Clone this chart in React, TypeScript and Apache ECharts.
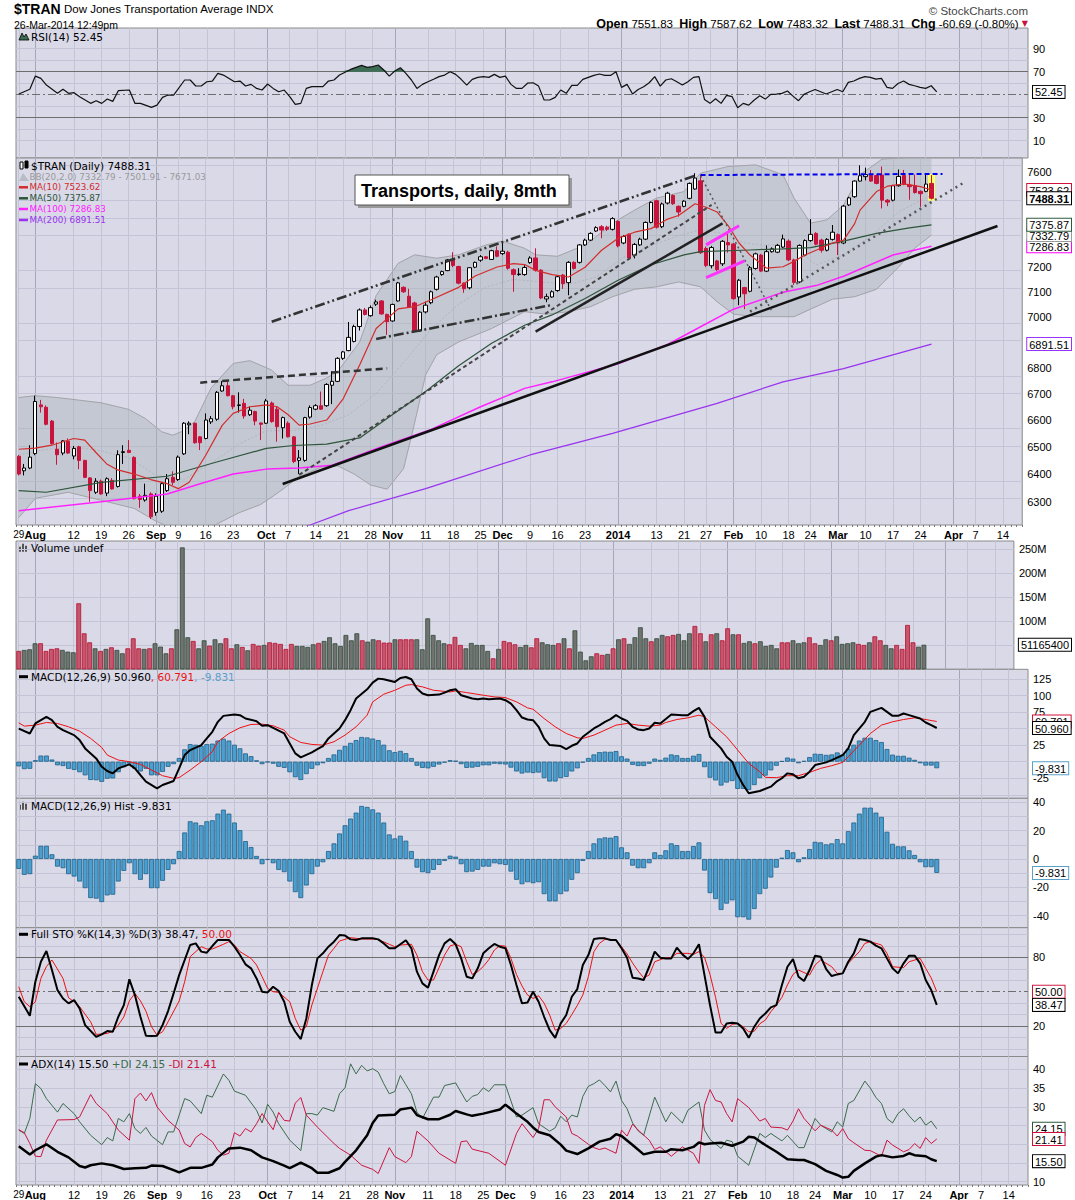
import React, { useEffect, useRef } from "react";
import * as echarts from "echarts";

const SLOTS = 183;
const FONT = "Liberation Sans";
const VFONT = "DejaVu Sans";
const BG = "#d9d9e8";

// [index, label, isMonth]
const tickLabels: [number, string, number][] = [
  [0, "29", 0], [3, "Aug", 1], [10, "12", 0], [15, "19", 0], [20, "26", 0], [25, "Sep", 1], [29, "9", 0], [34, "16", 0], [39, "23", 0],
  [45, "Oct", 1], [49, "7", 0], [54, "14", 0], [59, "21", 0], [64, "28", 0], [68, "Nov", 1], [74, "11", 0], [79, "18", 0], [84, "25", 0],
  [88, "Dec", 1], [93, "9", 0], [98, "16", 0], [103, "23", 0], [109, "2014", 1], [116, "13", 0], [121, "21", 0], [125, "27", 0],
  [130, "Feb", 1], [135, "10", 0], [140, "18", 0], [144, "24", 0], [149, "Mar", 1], [154, "10", 0], [159, "17", 0], [164, "24", 0],
  [170, "Apr", 1], [174, "7", 0], [179, "14", 0],
];

// Daily candles [open, high, low, close], Jul 29 2013 .. Mar 26 2014
const ohlc: number[][] = [
  [6465, 6470, 6395, 6400], [6412, 6437, 6395, 6422], [6422, 6506, 6418, 6462], [6475, 6692, 6469, 6670], [6657, 6676, 6628, 6650],
  [6648, 6655, 6580, 6584], [6596, 6600, 6508, 6512], [6491, 6516, 6434, 6471], [6477, 6525, 6469, 6522], [6521, 6531, 6474, 6477],
  [6466, 6503, 6454, 6494], [6500, 6504, 6418, 6450], [6450, 6452, 6385, 6388], [6386, 6388, 6300, 6340], [6334, 6385, 6328, 6374],
  [6374, 6380, 6325, 6328], [6331, 6388, 6320, 6383], [6377, 6385, 6344, 6346], [6355, 6487, 6351, 6471], [6479, 6506, 6437, 6482],
  [6487, 6525, 6477, 6479], [6461, 6465, 6308, 6311], [6320, 6328, 6278, 6308], [6306, 6365, 6300, 6323], [6328, 6334, 6238, 6246],
  [6262, 6330, 6250, 6320], [6266, 6370, 6260, 6365], [6340, 6400, 6335, 6383], [6388, 6410, 6360, 6370], [6380, 6468, 6375, 6462],
  [6474, 6592, 6470, 6588], [6582, 6595, 6547, 6588], [6588, 6590, 6512, 6515], [6537, 6540, 6488, 6515], [6531, 6625, 6528, 6600],
  [6593, 6615, 6585, 6605], [6603, 6710, 6597, 6705], [6710, 6748, 6707, 6730], [6730, 6745, 6690, 6692], [6692, 6695, 6640, 6650],
  [6655, 6705, 6628, 6657], [6663, 6680, 6605, 6615], [6620, 6650, 6615, 6637], [6632, 6635, 6580, 6596], [6589, 6590, 6525, 6584],
  [6588, 6680, 6585, 6672], [6664, 6670, 6590, 6594], [6641, 6650, 6519, 6575], [6571, 6613, 6531, 6609], [6588, 6595, 6535, 6537],
  [6537, 6540, 6440, 6446], [6450, 6488, 6400, 6459], [6450, 6612, 6445, 6609], [6611, 6655, 6605, 6647], [6641, 6660, 6637, 6654],
  [6654, 6708, 6638, 6641], [6654, 6740, 6650, 6735], [6732, 6786, 6660, 6747], [6747, 6840, 6744, 6836], [6836, 6865, 6830, 6861],
  [6866, 6979, 6864, 6918], [6902, 6968, 6898, 6961], [6961, 7033, 6945, 7027], [7027, 7035, 7005, 7009], [7004, 7045, 7000, 7036],
  [7050, 7068, 7043, 7059], [7063, 7066, 7008, 7011], [7009, 7012, 6928, 6980], [6983, 7052, 6980, 7049], [7063, 7140, 7060, 7136],
  [7118, 7122, 7095, 7100], [7082, 7112, 7036, 7039], [7055, 7060, 6940, 6943], [6944, 7022, 6940, 7018], [7019, 7060, 7013, 7046],
  [7056, 7105, 7050, 7100], [7110, 7165, 7105, 7160], [7170, 7186, 7165, 7182], [7186, 7234, 7184, 7230], [7230, 7262, 7200, 7207],
  [7203, 7206, 7130, 7135], [7135, 7138, 7096, 7112], [7116, 7200, 7110, 7198], [7200, 7223, 7196, 7220], [7229, 7250, 7222, 7243],
  [7243, 7246, 7233, 7236], [7232, 7272, 7230, 7268], [7268, 7286, 7241, 7245], [7256, 7303, 7250, 7266], [7262, 7268, 7190, 7196],
  [7190, 7195, 7100, 7170], [7170, 7196, 7165, 7172], [7170, 7208, 7165, 7199], [7219, 7245, 7214, 7238], [7238, 7278, 7182, 7188],
  [7188, 7192, 7070, 7075], [7071, 7092, 7058, 7080], [7079, 7106, 7076, 7100], [7105, 7166, 7100, 7161], [7168, 7172, 7112, 7133],
  [7137, 7225, 7086, 7220], [7220, 7224, 7190, 7195], [7220, 7295, 7215, 7292], [7292, 7318, 7288, 7312], [7312, 7345, 7308, 7340],
  [7350, 7370, 7346, 7364], [7368, 7375, 7320, 7354], [7366, 7372, 7350, 7357], [7357, 7408, 7352, 7402], [7390, 7395, 7282, 7288],
  [7300, 7333, 7295, 7327], [7336, 7340, 7232, 7238], [7250, 7300, 7236, 7294], [7292, 7322, 7288, 7316], [7316, 7390, 7312, 7386],
  [7386, 7475, 7382, 7471], [7478, 7482, 7360, 7366], [7368, 7470, 7362, 7464], [7468, 7516, 7462, 7510], [7500, 7505, 7460, 7465],
  [7454, 7458, 7410, 7430], [7454, 7480, 7450, 7476], [7488, 7556, 7484, 7552], [7528, 7596, 7525, 7575], [7563, 7590, 7255, 7260],
  [7277, 7285, 7200, 7207], [7206, 7288, 7195, 7281], [7226, 7230, 7185, 7190], [7214, 7312, 7205, 7307], [7302, 7350, 7260, 7292],
  [7296, 7300, 7068, 7072], [7079, 7152, 7046, 7147], [7117, 7120, 7030, 7092], [7102, 7205, 7098, 7198], [7195, 7260, 7190, 7255],
  [7250, 7255, 7180, 7184], [7184, 7290, 7180, 7264], [7264, 7282, 7260, 7276], [7262, 7296, 7258, 7290], [7283, 7335, 7278, 7317],
  [7308, 7315, 7225, 7230], [7230, 7235, 7128, 7138], [7140, 7294, 7135, 7290], [7250, 7315, 7245, 7310], [7310, 7400, 7305, 7336],
  [7340, 7345, 7290, 7295], [7312, 7318, 7260, 7270], [7270, 7320, 7265, 7315], [7315, 7375, 7310, 7345], [7335, 7340, 7250, 7300],
  [7300, 7460, 7295, 7455], [7460, 7495, 7455, 7490], [7495, 7565, 7490, 7562], [7562, 7630, 7560, 7585], [7581, 7620, 7565, 7590],
  [7586, 7610, 7558, 7562], [7586, 7590, 7548, 7552], [7588, 7625, 7445, 7480], [7480, 7485, 7455, 7472], [7480, 7546, 7475, 7542],
  [7542, 7612, 7538, 7582], [7586, 7610, 7544, 7548], [7545, 7590, 7482, 7538], [7542, 7590, 7508, 7513], [7518, 7522, 7452, 7508],
  [7518, 7594, 7514, 7549], [7551.83, 7587.62, 7483.32, 7488.31],
];

// Volume in millions, and r = red bar, g = grey bar
const volumeM: number[] = [
  38.2, 40.3, 41.7, 54.2, 54.2, 38.2, 42.4, 43.7, 40.3, 36.8,
  35.4, 137.5, 75, 56.2, 43.7, 38.2, 42.4, 45.8, 40.3, 33.3,
  43.7, 64.6, 43.7, 42.4, 43.7, 54.2, 47.2, 33.3, 43.7, 83.3,
  254, 66.7, 59, 43.7, 60.4, 49.3, 62.5, 54.2, 64.6, 43.7,
  52.1, 46.5, 39.6, 52.8, 49.3, 50.7, 56.2, 54.9, 52.8, 42.4,
  52.8, 48.6, 48.6, 46.5, 52.1, 54.9, 59, 66.7, 54.2, 48.6,
  71.5, 60.4, 75, 60.4, 57.6, 62.5, 60.4, 55.6, 55.6, 62.5,
  62.5, 62.5, 62.5, 62.5, 41.7, 106.2, 71.5, 60.4, 54.2, 52.1,
  67.4, 50.7, 43.7, 54.9, 50.7, 50.7, 38.2, 22.9, 42.4, 59,
  56.2, 52.1, 46.5, 50.7, 45.8, 64.6, 56.2, 52.1, 50.7, 54.2,
  64.6, 43.7, 81.2, 36.8, 18.7, 27.1, 33.3, 29.9, 31.9, 43.7,
  62.5, 64.6, 52.8, 66.7, 87.5, 64.6, 58.3, 64.6, 71.5, 68.7,
  71.5, 73.6, 60.4, 75, 90.3, 75, 58.3, 72.9, 75, 60.4,
  85.4, 72.9, 72.9, 54.9, 58.3, 54.2, 58.3, 48.6, 50.7, 43.7,
  56.2, 56.2, 60.4, 54.2, 56.2, 66.7, 54.2, 50.7, 62.5, 60.4,
  68.7, 52.8, 54.2, 56.2, 52.8, 50.7, 56.2, 68.7, 60.4, 50.7,
  43.7, 50.7, 42.4, 92.4, 56.2, 47.0, 51.1654,
];
const volumeColor =
  "rgggrrrrgg" + "grrrgrgrgg" + "rrrgrgggrg" + "ggrggrggrr" + "grgrrgrrrr" + "rggggrgggg" + "gggrggrrrg" + "rrrggggggr" + "rrgggggrgr" + "rrgg" +
  "rrgggr" + "grggggrrgr" + "grggggrggr" + "rgggrrgrgr" + "rgrggrgggg" + "rrgggrrggr" + "ggggrrgrrg" + "grrrrgg";

const histVals: number[] = [
  -7.0, -11.2, -10.7, 2.3, 9.3, 9.3, 3.3, -5.4, -6.5, -10.7,
  -12.4, -15.9, -20.6, -27.6, -28.0, -30.4, -25.7, -25.2, -15.9, -8.4,
  -3.0, -10.7, -14.7, -10.7, -20.6, -20.6, -15.4, -7.7, -3.7, 5.6,
  18.7, 26.6, 25.7, 23.8, 26.6, 27.3, 32.0, 34.8, 32.0, 25.7,
  20.3, 12.6, 8.4, 2.1, -3.7, -0.7, -3.0, -7.7, -9.3, -15.9,
  -23.4, -27.6, -18.7, -10.7, -5.4, -2.3, 5.6, 11.0, 18.0, 23.8,
  28.5, 32.7, 37.4, 36.7, 35.0, 32.7, 25.7, 17.3, 14.5, 16.4,
  12.9, 5.6, -6.1, -9.3, -10.0, -7.7, -4.2, -1.4, 2.3, 1.6,
  -3.7, -9.3, -8.9, -7.7, -5.4, -5.4, -3.0, -3.7, -4.2, -8.9,
  -14.7, -17.8, -16.4, -17.1, -16.4, -24.8, -29.9, -29.9, -24.8, -22.9,
  -14.7, -10.0, -1.4, 5.6, 11.0, 14.5, 15.2, 15.0, 16.1, 8.2,
  4.7, -4.7, -6.5, -6.5, -3.0, 4.7, 2.8, 6.1, 11.0, 9.8,
  5.6, 5.6, 9.1, 11.7, -8.2, -24.1, -28.3, -36.0, -31.5, -29.2,
  -41.1, -41.1, -42.8, -35.3, -24.8, -21.0, -13.1, -6.1, 0.9, 6.3,
  4.7, -2.3, 1.2, 7.0, 12.1, 11.7, 10.3, 11.0, 14.0, 11.0,
  19.6, 25.7, 32.0, 36.2, 36.2, 32.7, 29.7, 19.2, 10.7, 8.9,
  8.9, 6.1, 2.8, -2.3, -5.8, -5.8, -9.831,
];

const rsiPts: number[][] = [
  [0, 50.6], [2, 54.7], [3, 66.2], [4, 64.2], [5, 58.4], [7, 51.2], [8, 54.7], [9, 51.2], [10, 51.8], [11, 48.3], [13, 42.5], [14, 44.8],
  [15, 42.5], [16, 46.3], [17, 44.2], [18, 53.5], [20, 54.1], [21, 42.5], [22, 42.5], [24, 39.0], [25, 41.0], [26, 47.7], [27, 49.7],
  [28, 49.7], [30, 62.8], [31, 62.8], [32, 57.6], [33, 57.6], [34, 61.3], [35, 61.9], [36, 68.6], [37, 67.1], [39, 61.3], [40, 61.9],
  [41, 57.6], [42, 59.0], [43, 55.5], [44, 54.1], [45, 59.3], [46, 55.5], [47, 52.6], [48, 54.1], [49, 48.3], [50, 41.6], [51, 42.5],
  [52, 55.5], [53, 57.0], [55, 57.0], [56, 61.9], [57, 62.8], [58, 67.1], [60, 72.0], [62, 75.5], [63, 73.8], [64, 74.4], [65, 75.8],
  [66, 71.5], [67, 66.2], [68, 70.6], [69, 73.5], [70, 68.6], [71, 62.8], [72, 55.5], [73, 59.0], [74, 61.3], [75, 63.4], [76, 65.7],
  [77, 67.1], [78, 70.0], [79, 67.7], [80, 63.4], [81, 58.4], [82, 63.4], [83, 65.1], [84, 65.7], [85, 65.1], [86, 67.7], [87, 65.1],
  [88, 66.2], [89, 59.0], [90, 55.5], [91, 55.5], [92, 60.0], [93, 60.4], [94, 57.5], [95, 45.4], [96, 45.4], [97, 47.7], [98, 54.1],
  [99, 51.2], [100, 58.1], [101, 58.1], [102, 63.3], [103, 65.1], [104, 66.8], [105, 68.0], [106, 66.8], [107, 66.8], [108, 70.0],
  [109, 56.4], [110, 59.0], [111, 50.6], [112, 54.6], [113, 56.9], [114, 60.4], [115, 65.7], [116, 57.5], [117, 62.8], [118, 63.9],
  [119, 61.3], [120, 58.4], [121, 61.3], [122, 65.1], [123, 65.7], [124, 45.9], [125, 42.5], [126, 46.5], [127, 42.5], [128, 49.4],
  [129, 48.3], [130, 38.7], [131, 42.5], [132, 41.0], [133, 45.4], [134, 49.1], [135, 46.2], [136, 50.3], [137, 50.6], [138, 51.2],
  [139, 53.2], [140, 48.8], [141, 44.8], [142, 50.3], [143, 52.6], [144, 54.6], [145, 52.6], [146, 50.6], [147, 52.6], [148, 54.6],
  [149, 52.6], [150, 60.7], [151, 61.9], [152, 64.2], [153, 65.7], [154, 65.1], [155, 63.6], [156, 64.2], [157, 56.4], [158, 55.5],
  [159, 59.8], [160, 61.9], [161, 59.0], [162, 57.8], [163, 56.4], [164, 55.5], [165, 57.8], [166, 52.45],
];

const macdPts: number[][] = [
  [0, 50], [2, 42.7], [3, 57.8], [5, 67.8], [6, 62.8], [7, 52.8], [8, 47.7], [10, 40.2], [11, 32.7], [12, 20.1], [14, 5.0], [15, -7.5],
  [16, -14.1], [17, -17.6], [18, -10.1], [20, -4.0], [21, -10.1], [22, -20.1], [23, -30.2], [25, -40.2], [26, -35.2], [28, -29.1],
  [29, -10.1], [30, 10.1], [31, 17.6], [33, 25.1], [34, 35.2], [35, 45.2], [36, 60.3], [37, 69.3], [39, 71.4], [40, 70.4], [41, 65.3],
  [43, 61.3], [44, 54.3], [45, 55.3], [46, 51.3], [48, 42.7], [49, 27.6], [50, 12.6], [51, 6.5], [53, 14.1], [54, 19.1], [55, 23.6],
  [56, 35.2], [58, 50.3], [59, 62.8], [60, 77.9], [61, 95.5], [63, 109.5], [64, 119.6], [65, 125.6], [66, 124.6], [68, 120.6],
  [69, 126.6], [70, 128.1], [71, 124.6], [72, 110.6], [73, 103.0], [74, 100.5], [76, 101.5], [77, 104.5], [78, 108.0], [79, 109.5],
  [80, 100.5], [82, 95.5], [83, 94.5], [84, 95.5], [85, 94.5], [87, 95.5], [88, 93.0], [89, 87.9], [90, 77.9], [91, 66.8], [92, 63.8],
  [93, 62.8], [94, 52.8], [95, 35.2], [96, 25.1], [98, 23.6], [99, 19.1], [100, 24.1], [101, 27.6], [102, 37.7], [104, 50.3], [105, 55],
  [106, 60.3], [107, 64.3], [108, 70.4], [109, 65.3], [110, 61.8], [111, 52.8], [112, 48.7], [113, 47.7], [114, 50.3], [115, 58.8],
  [116, 57.8], [118, 71.4], [120, 70.4], [121, 70.4], [122, 76.4], [123, 81.4], [124, 67.8], [125, 37.7], [127, 20.1], [128, 7.5],
  [129, 0], [130, -20.1], [131, -35.2], [132, -47.7], [134, -44.2], [136, -37.7], [137, -30.2], [138, -25], [139, -17.6], [140, -19.1],
  [141, -25.1], [142, -22.6], [143, -15.1], [144, -5.0], [146, -1.0], [147, 2.5], [149, 10.1], [150, 20.1], [151, 40.2], [153, 60.3],
  [154, 75.4], [156, 81.4], [157, 75.4], [158, 69.3], [159, 69.3], [160, 72.9], [161, 70.4], [163, 65.3], [164, 59.3], [165, 55.3],
  [166, 50.96],
];

const signalPts: number[][] = [
  [0, 58.8], [1, 53.8], [3, 55.3], [5, 59.3], [7, 57.8], [9, 52.8], [11, 46.2], [13, 35.2], [15, 21.6], [16, 10.1], [18, 2.5], [20, 0],
  [22, -4.0], [24, -12.6], [26, -21.1], [28, -25.1], [29, -24.1], [31, -12.6], [33, 0], [35, 15.1], [36, 30.2], [38, 42.7], [40, 51.3],
  [42, 56.3], [44, 56.8], [46, 54.3], [48, 47.7], [49, 37.7], [51, 29.1], [53, 26.1], [55, 25.1], [57, 30.2], [59, 40.2], [61, 52.8],
  [63, 70.4], [64, 90.5], [66, 102.0], [68, 108.0], [70, 115.6], [71, 116.6], [73, 113.1], [75, 108.0], [78, 105.5], [79, 107.0],
  [81, 104.5], [84, 100.5], [86, 98.0], [88, 97.0], [90, 90.5], [92, 81.4], [93, 79.4], [95, 65.3], [97, 52.8], [99, 42.7], [101, 36.2],
  [102, 35.2], [104, 40.2], [106, 47.7], [108, 55.3], [110, 57.8], [112, 55.3], [114, 53.8], [116, 55.3], [117, 59.3], [119, 63.8],
  [121, 66.3], [123, 70.4], [124, 67.8], [126, 52.8], [128, 37.7], [130, 17.6], [132, -2.5], [134, -15.1], [135, -23.6], [137, -24.1],
  [139, -21.1], [141, -21.1], [143, -16.1], [145, -10.1], [147, -6.0], [149, -1.0], [150, 7.5], [152, 25.1], [154, 42.7], [156, 55.3],
  [158, 60.3], [160, 63.8], [162, 66.3], [163, 65.3], [166, 60.791],
];

const stoKPts: number[][] = [
  [0, 45.6], [2, 29.0], [3, 58.7], [4, 76.2], [5, 85.5], [6, 68.9], [7, 51.4], [8, 44.1], [9, 39.8], [10, 42.7], [11, 35.4], [12, 20.8],
  [14, 10.6], [15, 12.7], [16, 15.6], [17, 15.0], [18, 28.1], [19, 38.3], [20, 60.8], [21, 47.1], [22, 28.1], [23, 11.5], [24, 11.2],
  [25, 11.5], [26, 20.8], [27, 33.1], [28, 48.5], [29, 64.5], [31, 90.8], [32, 92.2], [33, 85.0], [34, 84.1], [35, 89.9], [36, 95.2],
  [38, 95.2], [39, 89.3], [40, 82.0], [41, 73.9], [42, 70.4], [43, 61.6], [44, 50.0], [45, 49.4], [46, 54.3], [47, 50.6], [48, 41.2],
  [49, 23.7], [50, 15.0], [51, 8.6], [52, 26.6], [53, 55.8], [54, 79.1], [55, 83.5], [56, 89.3], [57, 93.7], [58, 99.5], [59, 99.0],
  [60, 95.7], [61, 95.2], [62, 96.6], [64, 96.6], [65, 95.7], [66, 92.2], [67, 87.9], [68, 87.9], [69, 91.4], [70, 94.9], [71, 87.9],
  [72, 67.5], [73, 57.3], [74, 53.5], [75, 67.5], [76, 82.0], [77, 92.2], [78, 96.0], [79, 91.4], [80, 79.1], [81, 63.1], [82, 61.6],
  [83, 70.4], [84, 83.5], [85, 87.9], [86, 91.7], [87, 89.3], [88, 87.9], [89, 73.3], [90, 55.8], [91, 39.8], [92, 40.6], [93, 50.0],
  [94, 41.2], [95, 28.1], [96, 16.4], [97, 9.7], [98, 22.3], [99, 29.6], [100, 45.6], [101, 52.3], [102, 73.3], [103, 82.0], [104, 96.0],
  [105, 96.6], [106, 96.6], [107, 95.2], [108, 95.2], [109, 87.9], [110, 79.7], [111, 62.2], [112, 61.6], [113, 60.2], [114, 71.8],
  [115, 85.0], [116, 79.7], [117, 79.1], [118, 79.1], [119, 88.5], [120, 82.6], [121, 78.5], [122, 83.5], [123, 91.4], [124, 64.5],
  [125, 38.3], [126, 14.4], [127, 14.4], [128, 22.3], [129, 22.9], [130, 22.3], [131, 17.9], [132, 9.7], [133, 19.4], [134, 26.6],
  [135, 31.0], [136, 36.3], [137, 38.3], [138, 55.8], [139, 71.8], [140, 78.5], [141, 63.1], [142, 59.3], [143, 68.9], [144, 81.5],
  [145, 80.6], [146, 69.8], [147, 63.7], [148, 65.1], [149, 66.0], [150, 76.2], [151, 83.5], [152, 96.0], [153, 95.2], [154, 93.7],
  [155, 90.2], [156, 87.9], [157, 79.1], [158, 70.4], [159, 66.0], [160, 74.8], [161, 81.5], [162, 81.5], [163, 74.8], [164, 60.2],
  [165, 51.4], [166, 38.47],
];

const stoDPts: number[][] = [
  [0, 54.3], [1, 41.2], [2, 36.9], [3, 41.2], [4, 61.6], [5, 72.0], [6, 77.7], [8, 61.6], [9, 44.7], [10, 41.2], [11, 36.9], [13, 23.7],
  [14, 12.7], [16, 13.5], [17, 15.6], [18, 20.8], [19, 28.0], [20, 42.0], [21, 48.5], [22, 42.0], [23, 33.0], [24, 19.4], [25, 12.1],
  [26, 15.0], [27, 23.7], [29, 41.8], [30, 58.7], [31, 80.6], [33, 89.3], [34, 87.3], [35, 87.3], [37, 91.4], [38, 93.7], [39, 90.8],
  [40, 85.0], [42, 79.1], [43, 73.3], [44, 63.1], [45, 52.9], [46, 50.0], [47, 49.4], [49, 41.2], [50, 26.6], [51, 16.4], [52, 19.4],
  [53, 38.3], [55, 67.5], [56, 82.0], [57, 87.9], [58, 94.3], [60, 97.2], [61, 96.6], [62, 96.0], [64, 96.0], [65, 95.5], [67, 91.4],
  [68, 89.3], [69, 90.8], [71, 91.4], [72, 82.0], [73, 67.5], [74, 60.2], [75, 60.2], [76, 71.0], [77, 82.0], [78, 90.0], [79, 91.4],
  [80, 89.3], [81, 76.2], [82, 65.1], [83, 67.5], [84, 72.0], [85, 78.0], [86, 86.4], [87, 90.2], [88, 89.9], [89, 79.1], [90, 65.0],
  [91, 55.0], [92, 47.1], [93, 44.1], [94, 46.5], [95, 40.0], [96, 29.6], [97, 16.4], [98, 17.9], [99, 22.3], [100, 30.0], [101, 38.0],
  [102, 47.1], [103, 63.1], [104, 85.0], [105, 92.2], [106, 95.7], [107, 95.7], [108, 95.2], [109, 89.3], [110, 83.0], [111, 75.0],
  [112, 68.0], [113, 62.2], [114, 64.5], [115, 76.2], [117, 79.7], [118, 79.7], [119, 83.5], [121, 83.5], [122, 82.6], [123, 85.0],
  [124, 80.0], [125, 65.0], [126, 45.0], [127, 22.3], [128, 17.9], [129, 21.4], [130, 22.3], [131, 19.4], [132, 15.0], [133, 15.5],
  [134, 22.0], [135, 25.2], [136, 32.5], [137, 38.3], [138, 45.0], [139, 56.0], [140, 65.1], [141, 68.9], [143, 64.5], [144, 73.3],
  [145, 77.7], [147, 71.8], [148, 66.0], [149, 66.0], [150, 74.8], [152, 85.0], [153, 92.2], [154, 93.7], [156, 90.8], [157, 83.5],
  [158, 71.8], [160, 71.0], [161, 76.2], [163, 79.1], [164, 70.4], [165, 62.0], [166, 50.0],
];

const adxPts: number[][] = [
  [0, 19.5], [2, 17.3], [3, 18.4], [5, 20.0], [7, 18.0], [9, 16.5], [11, 14.2], [12, 13.8], [13, 14.4], [15, 14.9], [17, 14.4], [19, 13.4],
  [21, 13.6], [23, 13.7], [24, 14.3], [26, 14.2], [28, 13.1], [29, 12.5], [31, 13.7], [33, 13.7], [35, 14.6], [36, 16.5], [38, 18.9],
  [40, 19.1], [42, 18.4], [44, 16.5], [46, 15.5], [48, 14.3], [49, 13.6], [51, 15.1], [53, 13.6], [54, 12.4], [56, 12.4], [58, 13.6],
  [59, 15.3], [61, 18.4], [63, 22.4], [64, 25.7], [65, 27.7], [68, 27.9], [69, 29.3], [71, 29.8], [72, 27.8], [74, 26.7], [76, 26.7],
  [78, 27.9], [79, 28.9], [81, 28.0], [82, 27.6], [84, 28.2], [87, 29.3], [88, 30.6], [90, 28.2], [92, 26.0], [93, 24.5], [94, 23.3],
  [96, 22.4], [98, 19.9], [99, 18.3], [101, 17.4], [103, 18.9], [105, 20.7], [107, 21.5], [108, 22.7], [109, 22.2], [111, 19.8],
  [113, 17.3], [115, 18.0], [117, 18.0], [118, 18.7], [120, 18.4], [122, 19.3], [123, 20.5], [124, 20.0], [125, 20.2], [127, 20.4],
  [129, 19.6], [131, 20.7], [132, 22.0], [133, 21.8], [135, 19.8], [137, 18.0], [139, 16.0], [141, 15.8], [142, 15.8], [144, 14.7],
  [146, 12.9], [148, 11.8], [149, 11.1], [150, 11.3], [151, 12.9], [153, 14.9], [155, 16.7], [156, 17.1], [158, 16.5], [160, 16.9],
  [161, 17.6], [162, 17.1], [164, 16.8], [165, 16.0], [166, 15.5],
];

const plusDIPts: number[][] = [
  [0, 23.8], [1, 22.9], [2, 26.9], [3, 36.2], [4, 34.9], [5, 32.2], [7, 28.6], [8, 30.9], [10, 28.2], [11, 26.0], [13, 22.4], [15, 19.9],
  [16, 21.8], [17, 20.9], [18, 26.9], [19, 26.0], [20, 28.2], [21, 24.2], [22, 22.9], [23, 24.5], [24, 22.2], [26, 19.9], [27, 23.3],
  [28, 23.3], [30, 32.2], [31, 31.6], [33, 28.2], [34, 33.1], [35, 32.6], [37, 38.8], [38, 37.1], [39, 34.2], [41, 33.1], [43, 29.1],
  [44, 25.7], [45, 30.7], [46, 28.6], [47, 25.5], [49, 21.1], [51, 18.3], [52, 28.2], [53, 28.2], [54, 27.8], [55, 29.8], [57, 28.8],
  [58, 33.5], [59, 35.1], [60, 41.5], [61, 38.8], [62, 41.1], [63, 39.6], [64, 40.2], [65, 39.3], [66, 36.2], [67, 33.5], [68, 34.1],
  [69, 38.4], [70, 35.9], [71, 33.5], [72, 28.6], [73, 26.9], [75, 32.6], [76, 32.6], [77, 35.7], [79, 36.4], [81, 31.3], [82, 32.8],
  [83, 33.3], [84, 35.1], [85, 34.1], [86, 35.9], [88, 35.9], [90, 27.3], [91, 27.8], [93, 29.8], [94, 25.5], [96, 23.5], [97, 24.4],
  [98, 27.5], [99, 26.0], [100, 27.8], [101, 27.3], [102, 32.8], [103, 35.5], [104, 36.2], [105, 37.2], [106, 35.7], [107, 34.0],
  [108, 36.9], [109, 31.7], [110, 29.5], [111, 25.7], [112, 23.6], [113, 22.4], [115, 32.6], [117, 26.0], [118, 28.6], [120, 25.7],
  [121, 29.1], [123, 31.3], [124, 23.8], [125, 21.3], [127, 18.9], [128, 21.1], [129, 20.7], [130, 16.8], [132, 14.4], [134, 22.9],
  [135, 21.8], [136, 22.9], [138, 20.9], [139, 22.4], [141, 19.1], [142, 19.1], [144, 26.9], [145, 25.1], [147, 23.3], [148, 26.0],
  [149, 24.6], [150, 30.9], [151, 31.7], [153, 36.9], [154, 35.0], [155, 32.5], [156, 30.9], [157, 26.9], [158, 25.7], [159, 28.2],
  [160, 29.5], [161, 27.6], [162, 26.0], [163, 27.3], [164, 25.1], [165, 26.2], [166, 24.15],
];

const minusDIPts: number[][] = [
  [0, 23.9], [1, 23.1], [2, 20.2], [3, 16.8], [4, 16.7], [5, 21.1], [7, 26.5], [10, 26.6], [11, 27.3], [13, 33.3], [14, 30.9], [16, 28.2],
  [17, 26.0], [18, 23.8], [20, 21.1], [21, 32.2], [22, 33.7], [23, 31.6], [24, 33.8], [25, 30.0], [27, 26.4], [29, 23.8], [30, 20.2],
  [31, 19.3], [32, 21.8], [33, 22.9], [35, 20.7], [36, 18.4], [37, 17.1], [38, 17.6], [39, 23.1], [40, 22.2], [41, 24.2], [42, 23.3],
  [43, 25.5], [44, 28.2], [46, 23.9], [47, 28.5], [48, 26.4], [49, 26.2], [50, 31.0], [51, 32.5], [52, 27.8], [54, 24.6], [57, 20.2],
  [58, 18.9], [60, 17.1], [62, 14.4], [64, 13.3], [65, 12.2], [67, 19.1], [68, 16.7], [70, 15.1], [71, 16.7], [72, 23.5], [74, 20.9],
  [76, 17.6], [79, 14.9], [80, 20.7], [81, 20.9], [82, 18.7], [85, 17.6], [88, 14.4], [90, 22.9], [91, 25.5], [93, 21.8], [94, 24.2],
  [95, 31.9], [96, 31.9], [97, 30.0], [99, 27.3], [100, 22.9], [101, 22.2], [103, 20.0], [104, 19.1], [105, 18.6], [106, 19.0],
  [108, 17.6], [109, 23.8], [110, 22.2], [111, 25.4], [112, 23.8], [114, 21.1], [115, 18.6], [116, 19.3], [118, 16.8], [120, 19.3],
  [122, 17.6], [123, 14.9], [124, 30.4], [125, 34.6], [126, 31.7], [127, 31.3], [128, 28.2], [129, 26.0], [130, 32.2], [132, 29.8],
  [134, 26.2], [135, 26.9], [136, 24.6], [138, 24.4], [139, 23.8], [140, 26.2], [141, 29.5], [142, 26.9], [144, 23.6], [145, 25.1],
  [147, 23.8], [148, 22.2], [149, 24.2], [150, 21.5], [151, 20.4], [153, 18.4], [154, 18.3], [156, 16.8], [157, 21.1], [158, 19.8],
  [160, 18.0], [161, 18.6], [162, 20.2], [163, 18.9], [164, 21.8], [165, 20.2], [166, 21.41],
];

const ma10Pts: number[][] = [
  [0, 6491], [3, 6495], [6, 6506], [10, 6531], [12, 6525], [14, 6480], [16, 6437], [18, 6415], [21, 6400], [24, 6380], [27, 6365],
  [29, 6347], [31, 6370], [34, 6469], [37, 6580], [39, 6625], [42, 6650], [45, 6657], [47, 6650], [49, 6620], [51, 6581], [53, 6585],
  [56, 6600], [59, 6680], [62, 6810], [65, 6953], [69, 7031], [72, 7040], [75, 7068], [80, 7118], [83, 7164], [87, 7201], [90, 7215],
  [92, 7211], [94, 7187], [97, 7170], [100, 7160], [103, 7200], [106, 7270], [109, 7320], [112, 7345], [115, 7360], [118, 7400],
  [120, 7415], [123, 7465], [125, 7450], [127, 7430], [129, 7373], [131, 7300], [133, 7250], [136, 7196], [139, 7202], [141, 7224],
  [143, 7250], [145, 7270], [148, 7300], [150, 7312], [152, 7380], [153, 7438], [156, 7517], [158, 7540], [161, 7550], [164, 7538],
  [166, 7523.62],
];
const ma50Pts: number[][] = [
  [0, 6340], [5, 6334], [15, 6370], [27, 6392], [36, 6444], [45, 6494], [50, 6505], [56, 6510], [62, 6533], [68, 6621], [74, 6708],
  [80, 6807], [86, 6895], [92, 6966], [97, 7007], [103, 7073], [109, 7147], [115, 7210], [121, 7251], [124, 7264], [133, 7271],
  [139, 7276], [144, 7281], [150, 7308], [156, 7340], [162, 7363], [166, 7375.87],
];
const ma100Pts: number[][] = [
  [0, 6268], [15, 6300], [27, 6328], [33, 6365], [39, 6400], [45, 6418], [51, 6422], [57, 6432], [66, 6500], [75, 6565], [84, 6650],
  [92, 6720], [97, 6745], [109, 6815], [118, 6890], [124, 6960], [130, 7030], [139, 7098], [145, 7125], [150, 7163], [159, 7250],
  [166, 7286.83],
];
const ma200Pts: number[][] = [
  [50, 6200], [53, 6217], [60, 6268], [74, 6347], [93, 6470], [108, 6550], [127, 6663], [139, 6745], [150, 6796], [166, 6891.51],
];
const bbUpperPts: number[][] = [
  [0, 6685], [3, 6692], [7, 6685], [15, 6665], [20, 6640], [23, 6606], [26, 6556], [28, 6543], [30, 6560], [32, 6594], [35, 6722],
  [39, 6816], [42, 6827], [45, 6800], [46, 6790], [49, 6732], [53, 6732], [56, 6760], [58, 6785], [62, 6900], [65, 7085], [69, 7216],
  [72, 7251], [76, 7237], [80, 7251], [85, 7292], [88, 7308], [92, 7278], [94, 7251], [98, 7245], [103, 7292], [109, 7397], [112, 7438],
  [116, 7489], [121, 7517], [124, 7596], [129, 7625], [134, 7632], [139, 7589], [141, 7489], [144, 7383], [147, 7397], [150, 7459],
  [153, 7589], [157, 7657], [162, 7665], [166, 7671.03],
];
const bbLowerPts: number[][] = [
  [0, 6243], [3, 6312], [9, 6334], [15, 6305], [21, 6276], [25, 6230], [28, 6205], [32, 6195], [36, 6220], [40, 6260], [44, 6290],
  [47, 6330], [51, 6390], [55, 6425], [58, 6430], [61, 6400], [64, 6360], [67, 6345], [70, 6420], [72, 6590], [74, 6772], [76, 6850],
  [80, 6900], [86, 6953], [92, 7020], [96, 7010], [100, 7020], [104, 7040], [108, 7080], [112, 7110], [116, 7120], [120, 7140],
  [124, 7120], [127, 7060], [130, 7010], [134, 7000], [138, 7000], [141, 7000], [144, 7030], [148, 7070], [152, 7080], [156, 7110],
  [160, 7200], [163, 7280], [166, 7332.79],
];
const bbMidPts: number[][] = [
  [0, 6470], [5, 6490], [10, 6500], [15, 6485], [20, 6460], [25, 6395], [30, 6380], [35, 6440], [40, 6510], [45, 6560], [50, 6560],
  [55, 6580], [60, 6620], [65, 6700], [70, 6820], [75, 6950], [80, 7050], [85, 7120], [90, 7150], [95, 7140], [100, 7130], [105, 7160],
  [110, 7240], [115, 7290], [120, 7330], [124, 7355], [128, 7340], [132, 7300], [136, 7290], [140, 7300], [145, 7210], [150, 7250],
  [155, 7330], [160, 7430], [166, 7501.91],
];

// Drawn annotation lines: [idx1, price1, idx2, price2, color, width, dash]
const trendLines: any[] = [
  [48, 6364, 178, 7371, "#111111", 2.5, "solid"],
  [94, 6941, 128, 7382, "#222222", 2.5, "solid"],
  [46, 6980, 123, 7585, "#333333", 2.5, [10, 3, 2, 3, 2, 3]],
  [65, 6912, 97, 7047, "#333333", 2.5, [10, 3, 2, 3]],
  [33, 6742, 67, 6797, "#333333", 2.5, [7, 4]],
  [51, 6397, 126, 7460, "#444444", 2, [4, 3]],
  [124, 7585, 137, 7020, "#555555", 1.5, [2, 3]],
  [125, 7292, 131, 7372, "#ff33ff", 3, "solid"],
  [125, 7157, 132, 7226, "#ff33ff", 3, "solid"],
  [133, 7020, 172, 7557, "#555555", 2.5, [2, 4]],
  [124, 7588, 168, 7593, "#0000ee", 2, [5, 3]],
];

const priceTicks = [6300, 6400, 6500, 6600, 6700, 6800, 6900, 7000, 7100, 7200, 7300, 7400, 7500, 7600];
const priceLabelVals = [7200, 7100, 7000, 6800, 6700, 6600, 6500, 6400, 6300];

const LN = Math.log;

function buildOption() {
  const cats = Array.from({ length: SLOTS }, (_, i) => String(i));
  const labelMap = new Map<number, { t: string; m: number }>();
  tickLabels.forEach(([i, t, m]) => labelMap.set(i, { t, m }));

  const panels = [
    { top: 28, h: 130, min: -5.0, max: 108.0 },
    { top: 158, h: 367, min: LN(6217), max: LN(7662) },
    { top: 541, h: 128.3, min: 0, max: 267.3 },
    { top: 669.3, h: 129, min: -55.3, max: 139.7 },
    { top: 798.3, h: 129.4, min: -48.5, max: 42.8 },
    { top: 927.7, h: 128.8, min: -6.6, max: 105.9 },
    { top: 1056.5, h: 128.5, min: 9.12, max: 43.46 },
  ];

  // label lists: first/last entries are plain labels far from their neighbours
  const L = (v: number, t: string, box?: string) => ({ v, t, box });
  const yLabels: any[][] = [
    [L(90, "90"), L(70, "70"), L(52.45, "52.45", "k"), L(30, "30"), L(10, "10")],
    [
      L(LN(7600), "7600"),
      L(LN(6891.51), "6891.51", "p"),
      L(LN(7286.83), "7286.83", "m"),
      L(LN(7332.79), "7332.79", "gr"),
      L(LN(7375.87), "7375.87", "g"),
      L(LN(7523.62), "7523.62", "r"),
      L(LN(7488.31), "7488.31", "kb"),
      ...priceLabelVals.map((p) => L(LN(p), String(p))),
    ],
    [L(250, "250M"), L(200, "200M"), L(150, "150M"), L(100, "100M"), L(51.1654, "51165400", "k")],
    [L(125, "125"), L(100, "100"), L(75, "75"), L(60.791, "60.791", "r"), L(50.96, "50.960", "k"), L(-9.831, "-9.831", "b"), L(25, "25"), L(-25, "-25")],
    [L(40, "40"), L(20, "20"), L(0, "0"), L(-9.831, "-9.831", "b"), L(-20, "-20"), L(-40, "-40")],
    [L(80, "80"), L(50, "50.00", "r"), L(38.47, "38.47", "k"), L(20, "20")],
    [L(40, "40"), L(35, "35"), L(30, "30"), L(24.15, "24.15", "g"), L(21.41, "21.41", "r"), L(15.5, "15.50", "k"), L(10, "10")],
  ];
  const boxBase = { backgroundColor: "#ffffff", borderWidth: 1, padding: [1, 2, 0, 2], fontFamily: FONT, fontSize: 11, color: "#000" };
  const boxRich: any = {
    k: { ...boxBase, borderColor: "#000000" },
    kb: { ...boxBase, borderColor: "#000000", fontWeight: "bold" },
    r: { ...boxBase, borderColor: "#d0103a" },
    g: { ...boxBase, borderColor: "#2e5a3c" },
    gr: { ...boxBase, borderColor: "#9a9a9a" },
    m: { ...boxBase, borderColor: "#ff00ff" },
    p: { ...boxBase, borderColor: "#9933ff" },
    b: { ...boxBase, borderColor: "#5aa0c8" },
  };
  const mkFmt = (list: any[]) => (val: number) => {
    const it = list.find((l) => Math.abs(l.v - val) < 1e-6);
    if (!it) return "";
    return it.box ? `{${it.box}|${it.t}}` : it.t;
  };

  const grid = panels.map((p) => ({
    left: 16, width: 1012, top: p.top, height: p.h, show: true,
    backgroundColor: BG, borderColor: "#8a8a8a", borderWidth: 1,
  }));

  const xAxis = panels.map((_, i) => {
    const showLab = i === 1 || i === 6;
    return {
      type: "category", gridIndex: i, data: cats, boundaryGap: true,
      axisLine: { show: false },
      axisTick: { show: showLab, interval: 0, length: 2, lineStyle: { color: "#777" } },
      splitLine: { show: false },
      axisLabel: {
        show: showLab, margin: 4, interval: (idx: number) => labelMap.has(idx),
        showMinLabel: true, showMaxLabel: true, hideOverlap: false,
        fontFamily: FONT, fontSize: 11, color: "#000",
        formatter: (value: string) => {
          const n = Number(value);
          const it = labelMap.get(n);
          if (!it) return "";
          if (n === 0) return `{s|${it.t}}`;
          return it.m ? `{m|${it.t}}` : it.t;
        },
        rich: {
          m: { fontWeight: "bold", fontFamily: FONT, fontSize: 11, color: "#000" },
          s: { fontFamily: FONT, fontSize: 10, color: "#000" },
        },
      },
    };
  });

  const yAxis = panels.map((p, i) => ({
    type: "value", gridIndex: i, position: "right", min: p.min, max: p.max,
    splitLine: { show: false }, axisLine: { show: false }, axisTick: { show: false },
    axisLabel: {
      show: true, customValues: yLabels[i].map((l) => l.v), formatter: mkFmt(yLabels[i]),
      hideOverlap: false, showMinLabel: true, showMaxLabel: true,
      fontFamily: FONT, fontSize: 11, color: "#000", margin: 5, rich: boxRich,
    },
  }));

  const light = { color: "#c4c4d6", width: 1, type: "solid" };
  const dark = { color: "#6e6e6e", width: 1, type: "solid" };
  const dashdot = { color: "#6e6e6e", width: 1, type: [8, 3, 2, 3] };
  const vLines = tickLabels.map(([i, , m]) => ({
    xAxis: i, lineStyle: { color: m ? "#a6a6ba" : "#c4c4d6", width: 1, type: "solid" },
  }));
  const steps = (a: number[]) => a.map((v) => ({ v, s: light }));
  const hSets: any[][] = [
    [...steps([10, 20, 40, 60, 80, 90]), { v: 30, s: dark }, { v: 70, s: dark }, { v: 50, s: dashdot }],
    priceTicks.map((p) => ({ v: LN(p), s: light })),
    steps([50, 100, 150, 200, 250]),
    steps([-50, -25, 0, 25, 50, 75, 100, 125]),
    steps([-40, -30, -20, -10, 0, 10, 20, 30, 40]),
    [...steps([0, 10, 30, 40, 60, 70, 90, 100]), { v: 20, s: dark }, { v: 80, s: dark }, { v: 50, s: dashdot }],
    steps([10, 15, 20, 25, 30, 35, 40]),
  ];
  const gridSeries = hSets.map((hs, g) => ({
    type: "line", xAxisIndex: g, yAxisIndex: g, z: 1, silent: true, showSymbol: false, symbol: "none",
    data: [[0, (panels[g].min + panels[g].max) / 2]], lineStyle: { width: 0, opacity: 0 },
    markLine: {
      silent: true, z: 1, symbol: ["none", "none"], label: { show: false }, animation: false,
      data: [...vLines, ...hs.map((h) => ({ yAxis: h.v, lineStyle: h.s }))],
    },
  }));

  const line = (g: number, data: number[][], color: string, width: number, z = 5, type: any = "solid") => ({
    type: "line", xAxisIndex: g, yAxisIndex: g, data, showSymbol: false, symbol: "none", silent: true,
    lineStyle: { color, width, type }, z, clip: true, animation: false,
  });
  const lnPts = (pts: number[][]) => pts.map(([i, p]) => [i, LN(p)]);

  const series: any[] = [
    ...gridSeries,
    // RSI
    {
      type: "line", xAxisIndex: 0, yAxisIndex: 0, data: rsiPts.map(([i, v]) => [i, Math.max(v, 70)]),
      showSymbol: false, symbol: "none", silent: true, z: 3, lineStyle: { width: 0 },
      areaStyle: { origin: 70, color: "#3d6e55", opacity: 1 },
    },
    line(0, rsiPts, "#111", 1.2, 5),
    // Price panel
    {
      type: "custom", xAxisIndex: 1, yAxisIndex: 1, z: 2, silent: true, clip: true,
      data: [[0, LN(7000)]],
      renderItem: (_p: any, api: any) => {
        const pts: number[][] = [];
        bbUpperPts.forEach(([i, p]) => pts.push(api.coord([i, LN(p)])));
        for (let k = bbLowerPts.length - 1; k >= 0; k--) pts.push(api.coord([bbLowerPts[k][0], LN(bbLowerPts[k][1])]));
        return { type: "polygon", shape: { points: pts }, style: { fill: "rgba(165,176,182,0.42)", stroke: "none" } };
      },
    },
    line(1, lnPts(bbUpperPts), "#a3a3a8", 1, 3),
    line(1, lnPts(bbLowerPts), "#a3a3a8", 1, 3),
    line(1, lnPts(bbMidPts), "#b4b4bc", 1, 3, [2, 2]),
    {
      type: "custom", xAxisIndex: 1, yAxisIndex: 1, z: 3, silent: true,
      data: [[166, LN(7592), LN(7478)]],
      renderItem: (_p: any, api: any) => {
        const a = api.coord([api.value(0), api.value(1)]);
        const b = api.coord([api.value(0), api.value(2)]);
        return { type: "rect", shape: { x: a[0] - 3.5, y: a[1], width: 7, height: b[1] - a[1] }, style: { fill: "#ffff66" } };
      },
    },
    {
      type: "candlestick", xAxisIndex: 1, yAxisIndex: 1, z: 4, silent: true, barWidth: "70%",
      data: ohlc.map(([o, h, l, c]) => [LN(o), LN(c), LN(l), LN(h)]),
      itemStyle: { color: "#ffffff", color0: "#c8143c", borderColor: "#000000", borderColor0: "#c8143c", borderWidth: 1 },
      markLine: {
        silent: true, z: 6, symbol: ["none", "none"], label: { show: false }, animation: false,
        data: trendLines.map(([i1, p1, i2, p2, color, width, type]) => [
          { coord: [i1, LN(p1)], lineStyle: { color, width, type } },
          { coord: [i2, LN(p2)] },
        ]),
      },
    },
    line(1, lnPts(ma200Pts), "#9933ee", 1.2, 5),
    line(1, lnPts(ma100Pts), "#ff22ff", 1.5, 5),
    line(1, lnPts(ma50Pts), "#2e553a", 1.2, 5),
    line(1, lnPts(ma10Pts), "#d42c2c", 1.2, 5),
    // Volume
    {
      type: "bar", xAxisIndex: 2, yAxisIndex: 2, z: 3, silent: true, barCategoryGap: "12%",
      data: volumeM.map((v, i) => ({
        value: v,
        itemStyle: volumeColor[i] === "r"
          ? { color: "#c4566e", borderColor: "#b5102f", borderWidth: 0.8 }
          : { color: "#727272", borderColor: "#2f4a35", borderWidth: 0.8 },
      })),
    },
    // MACD
    {
      type: "bar", xAxisIndex: 3, yAxisIndex: 3, z: 3, silent: true, barCategoryGap: "12%",
      data: histVals, itemStyle: { color: "#4b9fd0", borderColor: "#1f5f86", borderWidth: 0.8 },
    },
    line(3, signalPts, "#ee1111", 1, 5),
    line(3, macdPts, "#000", 2, 6),
    // Histogram
    {
      type: "bar", xAxisIndex: 4, yAxisIndex: 4, z: 3, silent: true, barCategoryGap: "12%",
      data: histVals, itemStyle: { color: "#4b9fd0", borderColor: "#1f5f86", borderWidth: 0.8 },
    },
    // STO
    line(5, stoDPts, "#ee1111", 1, 5),
    line(5, stoKPts, "#000", 2, 6),
    // ADX
    line(6, plusDIPts, "#3a6b4a", 1, 5),
    line(6, minusDIPts, "#cc1440", 1, 5),
    line(6, adxPts, "#000", 2.5, 6),
  ];

  const T = (x: number, y: number, text: string, size: number, fill = "#000", family = VFONT, weight = "normal", align = "left", rich?: any) => ({
    type: "text", x, y, z: 100, silent: true,
    style: {
      text, fill, fontSize: size, fontFamily: family, fontWeight: weight,
      align, verticalAlign: "middle", textAlign: align, textVerticalAlign: "middle", rich,
    },
  });
  const dash = (y: number, color: string, w = 2.5) => ({
    type: "line", z: 100, silent: true, shape: { x1: 19, y1: y, x2: 28, y2: y }, style: { stroke: color, lineWidth: w },
  });
  const bars = (y: number) => ({
    type: "group", z: 100, silent: true,
    children: [
      { type: "rect", shape: { x: 19, y: y - 1, width: 2, height: 5 }, style: { fill: "#555" } },
      { type: "rect", shape: { x: 22, y: y - 4, width: 2, height: 8 }, style: { fill: "#555" } },
      { type: "rect", shape: { x: 25, y: y - 2, width: 2, height: 6 }, style: { fill: "#555" } },
    ],
  });

  const graphic: any[] = [
    T(14, 9, "{a|$TRAN} {b|Dow Jones Transportation Average INDX}", 12, "#000", FONT, "normal", "left", {
      a: { fontSize: 14, fontWeight: "bold", fontFamily: FONT, fill: "#000" },
      b: { fontSize: 11.5, fontFamily: FONT, fill: "#000" },
    }),
    T(14, 24.5, "26-Mar-2014 12:49pm", 10.5, "#000", FONT),
    T(1028, 11, "\u00a9 StockCharts.com", 11.5, "#444", FONT, "normal", "right"),
    T(1028, 23.5, "{l|Open} {v|7551.83}  {l|High} {v|7587.62}  {l|Low} {v|7483.32}  {l|Last} {v|7488.31}  {l|Chg} {v|-60.69 (-0.80%)} {t|\u25bc}", 11.5, "#000", FONT, "normal", "right", {
      l: { fontSize: 12.5, fontWeight: "bold", fontFamily: FONT, fill: "#000" },
      v: { fontSize: 11.5, fontFamily: FONT, fill: "#000" },
      t: { fontSize: 8, fontFamily: VFONT, fill: "#c8143c" },
    }),
    // RSI legend
    { type: "polygon", z: 100, silent: true, shape: { points: [[19, 40], [22, 33], [24, 37], [26, 34], [29, 40]] }, style: { fill: "#3d6e55", stroke: "#000", lineWidth: 0.8 } },
    T(31, 36.5, "RSI(14) 52.45", 10.5),
    // price legend
    { type: "rect", z: 100, silent: true, shape: { x: 20, y: 162, width: 3, height: 7 }, style: { fill: "#fff", stroke: "#000", lineWidth: 1 } },
    { type: "rect", z: 100, silent: true, shape: { x: 25, y: 161, width: 3, height: 7 }, style: { fill: "#000", stroke: "#000", lineWidth: 1 } },
    T(31, 165.7, "$TRAN (Daily) 7488.31", 10.5),
    { type: "polygon", z: 100, silent: true, shape: { points: [[19, 181], [23, 173], [26, 177], [29, 181]] }, style: { fill: "#b8bcc4" } },
    T(29.5, 176.7, "BB(20,2.0) 7332.79 - 7501.91 - 7671.03", 8.8, "#9a9a9a"),
    dash(187.3, "#d42c2c"), T(29.5, 187.3, "MA(10) 7523.62", 8.8, "#d42c2c"),
    dash(198.3, "#2e553a"), T(29.5, 198.3, "MA(50) 7375.87", 8.8, "#2e553a"),
    dash(209, "#ff22ff"), T(29.5, 209, "MA(100) 7286.83", 8.8, "#ff22ff"),
    dash(220, "#9933ee"), T(29.5, 220, "MA(200) 6891.51", 8.8, "#9933ee"),
    // annotation box
    { type: "rect", z: 100, silent: true, shape: { x: 358, y: 178, width: 214, height: 30 }, style: { fill: "#9a9a9a" } },
    { type: "rect", z: 101, silent: true, shape: { x: 355, y: 175, width: 214, height: 30 }, style: { fill: "#ffffff", stroke: "#555", lineWidth: 1 } },
    { ...T(361, 190.5, "Transports, daily, 8mth", 18, "#000", FONT, "bold"), z: 102 },
    // volume
    bars(547.7), T(31, 547.7, "Volume undef", 10.5),
    // MACD
    dash(676.7, "#000", 3),
    T(31, 676.7, "{a|MACD(12,26,9) 50.960}{r|, 60.791}{b|, -9.831}", 10.5, "#000", VFONT, "normal", "left", {
      a: { fontSize: 10.5, fontFamily: VFONT, fill: "#000" },
      r: { fontSize: 10.5, fontFamily: VFONT, fill: "#ee1111" },
      b: { fontSize: 10.5, fontFamily: VFONT, fill: "#5aa0c8" },
    }),
    bars(805.7), T(31, 805.7, "MACD(12,26,9) Hist -9.831", 10.5),
    dash(934.3, "#000", 3),
    T(31, 934.3, "{a|Full STO %K(14,3) %D(3) 38.47, }{r|50.00}", 10.5, "#000", VFONT, "normal", "left", {
      a: { fontSize: 10.5, fontFamily: VFONT, fill: "#000" },
      r: { fontSize: 10.5, fontFamily: VFONT, fill: "#ee1111" },
    }),
    dash(1064, "#000", 3),
    T(31, 1064, "{a|ADX(14) 15.50 }{g|+DI 24.15 }{r|-DI 21.41}", 10.5, "#000", VFONT, "normal", "left", {
      a: { fontSize: 10.5, fontFamily: VFONT, fill: "#000" },
      g: { fontSize: 10.5, fontFamily: VFONT, fill: "#3a6b4a" },
      r: { fontSize: 10.5, fontFamily: VFONT, fill: "#cc1440" },
    }),
  ];

  return {
    animation: false,
    backgroundColor: "#ffffff",
    grid, xAxis, yAxis, series, graphic,
  };
}

export default function App() {
  const ref = useRef<HTMLDivElement>(null);
  useEffect(() => {
    document.body.style.margin = "0";
    const chart = echarts.init(ref.current as HTMLDivElement, undefined, { renderer: "svg" });
    chart.setOption(buildOption() as any);
    return () => chart.dispose();
  }, []);
  return <div ref={ref} style={{ width: 1075, height: 1200, background: "#fff" }} />;
}
